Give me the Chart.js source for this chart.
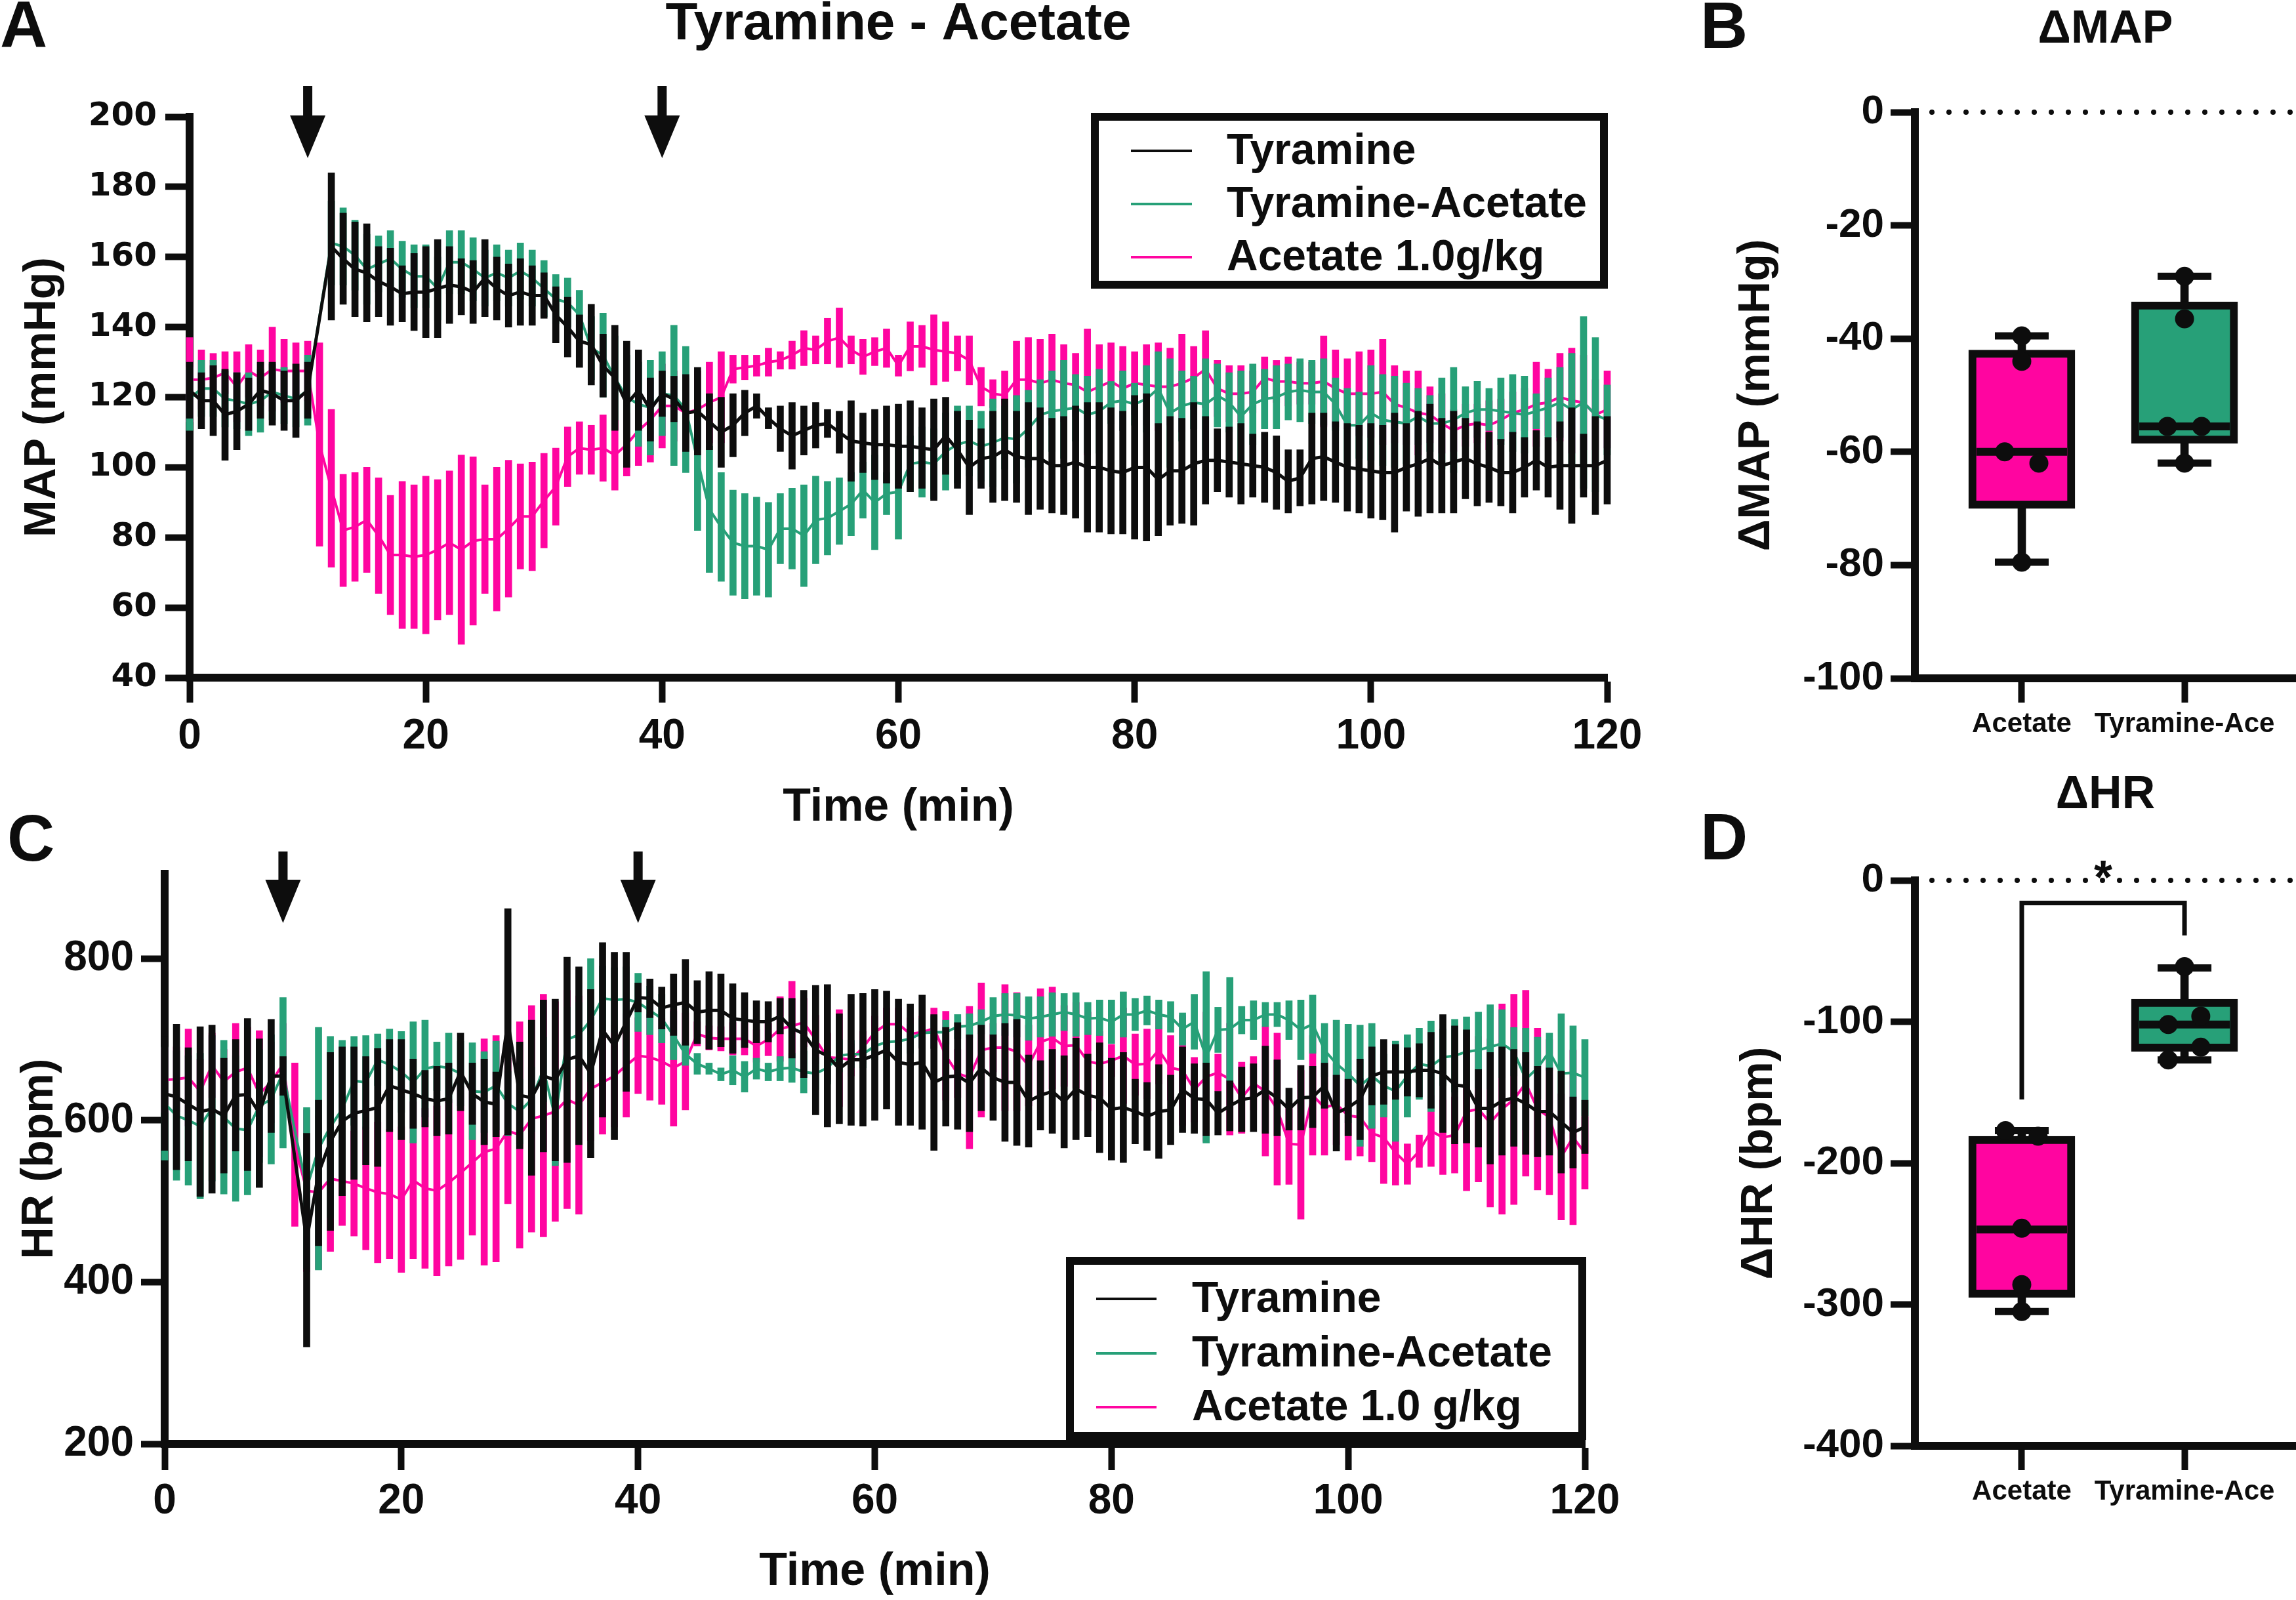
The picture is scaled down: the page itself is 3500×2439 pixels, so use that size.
<!DOCTYPE html>
<html>
<head>
<meta charset="utf-8">
<title>Tyramine - Acetate</title>
<script src="https://cdn.jsdelivr.net/npm/chart.js@4.4.1/dist/chart.umd.min.js"></script>
<style>
  body { margin: 0; background: #fff; }
  #wrap { position: relative; width: 3500px; height: 2439px; overflow: hidden; }
  canvas { position: absolute; }
</style>
</head>
<body>
<div id="wrap">
  <canvas id="panelA" width="2530" height="1290" style="left:0;top:0"></canvas>
  <canvas id="panelC" width="2500" height="1239" style="left:0;top:1200px"></canvas>
  <canvas id="panelB" width="940" height="1150" style="left:2560px;top:0"></canvas>
  <canvas id="panelD" width="940" height="1289" style="left:2560px;top:1150px"></canvas>
</div>
<script>
const ink = '#0d0d0d';
const green = '#27a078';
const pink = '#ff05a0';

const minutes = [
  0, 1, 2, 3, 4, 5, 6, 7, 8, 9,
  10, 11, 12, 13, 14, 15, 16, 17, 18, 19,
  20, 21, 22, 23, 24, 25, 26, 27, 28, 29,
  30, 31, 32, 33, 34, 35, 36, 37, 38, 39,
  40, 41, 42, 43, 44, 45, 46, 47, 48, 49,
  50, 51, 52, 53, 54, 55, 56, 57, 58, 59,
  60, 61, 62, 63, 64, 65, 66, 67, 68, 69,
  70, 71, 72, 73, 74, 75, 76, 77, 78, 79,
  80, 81, 82, 83, 84, 85, 86, 87, 88, 89,
  90, 91, 92, 93, 94, 95, 96, 97, 98, 99,
  100, 101, 102, 103, 104, 105, 106, 107, 108, 109,
  110, 111, 112, 113, 114, 115, 116, 117, 118, 119,
  120
];
const timeTicks = [0, 20, 40, 60, 80, 100, 120];
const mapTicks = [40, 60, 80, 100, 120, 140, 160, 180, 200];
const hrTicks = [200, 400, 600, 800];
const dMapTicks = [-100, -80, -60, -40, -20, 0];
const dHrTicks = [-400, -300, -200, -100, 0];
const arrowTimes = [10, 40];
const namesMap = ['Tyramine', 'Tyramine-Acetate', 'Acetate 1.0g/kg'];
const namesHr = ['Tyramine', 'Tyramine-Acetate', 'Acetate 1.0 g/kg'];
const groups = ['Acetate', 'Tyramine-Ace'];

// MAP (mmHg), mean and SEM per minute
const mapTyr = [
  122, 119, 119, 115, 116, 118, 122, 121, 119, 119,
  122, null, 163, 159.5, 156.5, 155.5, 153, 151.5, 149.5, 150,
  150, 151, 152, 151.5, 150, 154, 151, 149, 150, 149,
  149, 143.5, 140, 136, 135, 129, 125.5, 118, 122, 116.5,
  121, 119.5, 115.5, 116, 113, 110, 112, 115.5, 117.5, 114,
  111, 109, 110.5, 112, 112.5, 110, 107.5, 107, 106.5, 106.5,
  106, 106, 105.5, 105, 109, 105, 100, 102.5, 103, 105,
  103, 102.5, 102.5, 100.5, 100.5, 101.5, 100, 100, 99, 98.5,
  100, 100, 96.5, 99, 99, 101, 102, 102, 101.5, 101,
  100.5, 100, 98.5, 96, 97, 102.5, 103, 101.5, 100, 99.5,
  99, 98.5, 98.5, 100, 101, 102.5, 100.5, 101.5, 102.5, 101,
  100, 98.5, 98.5, 100, 102, 100, 100.5, 100.5, 100.5, 100.5,
  102
];
const mapTyrSem = [
  8, 8, 10, 13, 11, 7.5, 8, 9, 8.5, 10.5,
  8, null, 21, 13, 13.5, 14, 10, 11, 8, 11,
  13, 14, 11, 8, 9, 11, 9, 9, 9.5, 8.5,
  6.5, 8, 8.5, 7.5, 11.5, 9, 15, 18, 11.5, 9,
  6.5, 6.5, 11, 12.5, 8, 10, 9, 6.5, 3.5, 3,
  6.5, 9.5, 7, 6.5, 4, 6, 11.5, 8.5, 10, 11,
  12, 13, 11.5, 14.5, 11, 11, 13.5, 8.5, 13, 14.5,
  13, 16, 14.5, 13.5, 14, 16, 18.5, 18.5, 18, 17.5,
  20.5, 21, 16, 15.5, 15, 17.5, 12.5, 9, 10, 11.5,
  9, 10, 10.5, 9, 8, 13, 12.5, 11.5, 12.5, 12.5,
  13.5, 13.5, 17, 12.5, 15, 15.5, 13.5, 14.5, 11.5, 12,
  10, 9.5, 11.5, 8.5, 8.5, 8.5, 12.5, 16.5, 9, 14,
  12.5
];
const mapMix = [
  119.5, 122.5, 122.5, 119.5, 119, 118, 119, 121.5, 120.5, 119.5,
  122, null, 164, 163, 160.5, 156.5, 158, 159.5, 156.5, 154.5,
  154.5, 151, 158.5, 158.5, 156.5, 154, 155.5, 154, 156, 154,
  151, 148, 147, 143.5, 134, 132, 125.5, 120, 118, 117,
  121, 120.5, 116.5, 102, 88, 83, 78.5, 77.5, 77.5, 76.5,
  82.5, 82.5, 80.5, 85, 85.5, 87.5, 89.5, 93.5, 90, 92.5,
  93, 101, 101.5, 101, 104.5, 106.5, 107.5, 106, 107, 108.5,
  108, 111, 115, 116, 116.5, 117, 115, 116, 118.5, 119,
  118, 119.5, 122.5, 115.5, 117.5, 118.5, 118, 120.5, 118.5, 114.5,
  118, 119.5, 120, 121.5, 122, 121.5, 121.5, 118, 112, 112,
  115.5, 113.5, 113, 112.5, 114.5, 112.5, 112.5, 113.5, 115.5, 116.5,
  116.5, 116, 115.5, 115, 116, 117, 118.5, 116.5, 118.5, 115,
  113.5
];
const mapMixSem = [
  9, 8, 8, 8, 8, 9, 9, 8, 8, 8,
  10, null, 12, 11, 10, 10, 8, 8, 8, 9,
  9, 9, 9, 9, 9, 8, 8, 8, 8, 8,
  8, 7, 7, 7, 9, 12, 12, 12, 12, 13.5,
  12, 20, 18, 20, 18, 15.5, 15, 15, 14, 13.5,
  10, 11.5, 14.5, 12.5, 10.5, 9.5, 9, 8, 13.5, 6,
  13.5, 8, 10, 10, 11, 11, 10, 10, 12.5, 9,
  12.5, 11, 10, 11.5, 14, 9.5, 11, 12, 6, 8.5,
  6, 9.5, 10.5, 15.5, 10, 7.5, 13, 9, 8.5, 13,
  11.5, 8.5, 9, 8, 9, 9, 9.5, 7.5, 10.5, 9.5,
  13.5, 13, 13, 11.5, 8, 8, 13, 15, 7.5, 8,
  6, 9.5, 11, 11, 5, 8.5, 10, 16, 24.5, 22,
  10
];
const mapAce = [
  125, 125, 125.5, 127, 123, 127.5, 125.5, 128, 127.5, 127.5,
  127.5, 106.5, 94, 82, 83, 85, 80.5, 75, 75, 74.5,
  75, 76.5, 78.5, 76.5, 79, 79.5, 79.5, 82.5, 86, 86,
  90.5, 94.5, 103, 105.5, 105, 105.5, 103.5, 106.5, 110.5, 113.5,
  117.5, 117.5, 115.5, 116.5, 118.5, 120, 128, 128.5, 129, 130,
  130.5, 132, 134, 133.5, 136, 137, 133.5, 131.5, 133, 134,
  129, 134.5, 134.5, 133.5, 133, 132.5, 130.5, 123, 121, 120.5,
  125, 125, 124, 125, 124, 123.5, 121.5, 123, 124.5, 122.5,
  124, 123.5, 123, 123, 124, 125.5, 128, 122.5, 121, 121,
  121.5, 125.5, 124.5, 124.5, 124, 124, 124.5, 122.5, 121, 121,
  121, 121.5, 118, 117, 115.5, 115, 112.5, 110.5, 112, 112.5,
  112, 113.5, 115.5, 116.5, 118, 118.5, 120, 119, 118.5, 115,
  116.5
];
const mapAceSem = [
  12, 8.5, 7, 6, 10, 7.5, 8, 12, 9, 8,
  8.5, 29, 22.5, 16, 15.5, 15, 16.5, 17, 21, 20.5,
  22.5, 20, 20.5, 27, 24, 15.5, 20.5, 19.5, 15, 15.5,
  13.5, 11, 8.5, 7.5, 7, 9.5, 10, 9, 10, 12,
  12, 10, 10, 11, 11.5, 13, 4, 3.5, 3, 4,
  2.5, 4, 5, 4, 6.5, 8.5, 4, 5, 4, 5.5,
  3, 7, 6, 10, 8.5, 5, 7, 5.5, 4, 7,
  11, 12, 12.5, 13, 11, 9, 18, 12, 11, 12,
  9, 11.5, 12.5, 11, 14, 9, 11, 8, 8, 8,
  6, 6, 6, 7, 6, 6, 13, 11, 10, 12,
  12.5, 15, 11, 10.5, 12, 8, 8.5, 6, 6, 5.5,
  7, 6, 6, 6, 12, 9.5, 12.5, 15, 13.5, 10,
  11
];

// HR (bpm), mean and SEM per minute
const hrTyr = [
  633, 629, 620, 611, 614, 606, 631, 632, 609, 655,
  655, null, 452, 535, 574, 599, 609, 612, 616, 643,
  638, 633, 627, 624, 627, 660, 633, 623, 620, 722,
  631, 628, 655, 650, 675, 680, 658, 712, 692, 722,
  752, 751, 739, 743, 746, 734, 736, 736, 726, 724,
  722, 722, 729, 714, 707, 687, 680, 664, 675, 675,
  681, 687, 672, 669, 672, 647, 654, 655, 646, 665,
  653, 647, 647, 624, 631, 636, 623, 639, 631, 628,
  614, 616, 611, 605, 611, 613, 638, 627, 626, 609,
  618, 626, 628, 638, 628, 614, 628, 629, 643, 609,
  616, 626, 655, 660, 660, 660, 662, 662, 658, 644,
  642, 615, 615, 624, 628, 621, 611, 611, 598, 585,
  592
];
const hrTyrSem = [
  70, 90, 70, 105, 104, 71, 69, 94, 92, 70,
  24, null, 132, 90, 110, 92, 82, 67, 73, 57,
  62, 43, 35, 43, 44, 48, 38, 53, 40, 140,
  66, 96, 94, 100, 127, 110, 104, 108, 116, 86,
  18, 24, 26, 38, 53, 39, 48, 45, 43, 34,
  26, 25, 22, 37, 54, 80, 88, 68, 81, 82,
  81, 73, 78, 75, 83, 84, 61, 66, 60, 53,
  53, 73, 78, 57, 43, 52, 57, 63, 51, 68,
  63, 68, 40, 42, 58, 43, 53, 43, 45, 27,
  31, 40, 42, 54, 47, 26, 40, 38, 28, 47,
  35, 50, 36, 40, 34, 30, 33, 47, 73, 73,
  70, 48, 69, 67, 60, 63, 56, 54, 63, 44,
  33
];
const hrMix = [
  621, 606, 600, 593, 615, 604, 590, 588, 618, 626,
  659, null, 516, 565, 592, 614, 649, 647, 675, 669,
  660, 647, 664, 667, 665, 658, 636, 635, 643, 621,
  611, 626, 663, 604, 700, 706, 724, 751, 749, 750,
  746, 736, 726, 705, 682, 670, 664, 657, 662, 654,
  664, 660, 664, 665, 660, 658, 665, 680, 682, 682,
  692, 697, 698, 701, 708, 709, 709, 716, 717, 722,
  729, 731, 730, 726, 728, 731, 734, 731, 726, 727,
  722, 731, 731, 736, 731, 728, 713, 722, 678, 712,
  713, 724, 724, 731, 731, 724, 712, 719, 687, 670,
  658, 643, 655, 643, 636, 655, 670, 667, 678, 680,
  685, 687, 691, 695, 685, 651, 665, 685, 658, 659,
  653
];
const hrMixSem = [
  70, 80, 80, 90, 90, 95, 90, 80, 70, 80,
  93, null, 100, 150, 112, 85, 55, 58, 32, 44,
  50, 75, 60, 30, 43, 40, 60, 50, 55, 40,
  40, 40, 40, 60, 40, 40, 76, 40, 40, 40,
  36, 30, 30, 30, 14, 13, 7, 8, 18, 19,
  13, 11, 15, 18, 26, 20, 20, 20, 17, 17,
  17, 22, 22, 18, 18, 20, 15, 15, 15, 15,
  23, 26, 27, 27, 25, 27, 23, 27, 20, 22,
  27, 28, 20, 18, 18, 19, 20, 34, 106, 28,
  64, 17, 24, 15, 15, 24, 37, 36, 33, 54,
  61, 75, 65, 39, 62, 51, 44, 56, 35, 45,
  43, 47, 52, 42, 30, 63, 38, 23, 74, 58,
  47
];
const hrAce = [
  650, 651, 653, 636, 668, 648, 660, 665, 633, 647,
  670, 570, 513, 511, 528, 525, 522, 516, 511, 509,
  502, 526, 516, 513, 523, 535, 548, 561, 565, 587,
  582, 602, 606, 611, 626, 619, 639, 647, 655, 668,
  680, 678, 673, 665, 673, 707, 702, 701, 701, 701,
  692, 700, 713, 717, 721, 700, 678, 677, 675, 690,
  709, 719, 719, 707, 709, 714, 680, 658, 653, 687,
  690, 690, 685, 668, 697, 702, 692, 693, 673, 670,
  674, 680, 669, 670, 687, 665, 662, 638, 654, 659,
  651, 628, 646, 636, 614, 571, 570, 631, 616, 620,
  606, 604, 584, 579, 560, 546, 562, 587, 579, 582,
  611, 614, 597, 614, 626, 646, 614, 604, 555, 579,
  560
];
const hrAceSem = [
  40, 40, 60, 40, 40, 40, 60, 50, 78, 50,
  50, 101, 100, 95, 90, 55, 65, 76, 87, 80,
  90, 97, 99, 105, 103, 107, 90, 140, 140, 90,
  140, 140, 150, 136, 135, 135, 64, 64, 63, 64,
  47, 53, 53, 72, 60, 15, 15, 15, 20, 20,
  20, 20, 40, 55, 30, 30, 30, 60, 20, 20,
  20, 20, 20, 20, 20, 25, 55, 30, 88, 83,
  30, 78, 73, 50, 66, 63, 50, 53, 61, 40,
  20, 59, 38, 43, 42, 40, 68, 40, 80, 23,
  69, 44, 33, 80, 94, 50, 92, 74, 59, 50,
  55, 48, 35, 57, 40, 25, 20, 44, 46, 47,
  98, 90, 104, 130, 130, 115, 100, 96, 78, 108,
  45
];

// box plots: [min, q1, median, q3, max] and the single animals
const dMapAcetateBox = [-79.5, -70, -60, -42, -39.5];
const dMapTyrAceBox = [-62, -58.5, -55.5, -33.5, -29];
const dMapAcetatePts = [-39.5, -44, -60, -62, -79.5];
const dMapTyrAcePts = [-29, -36.5, -55.5, -55.5, -62];
const dHrAcetateBox = [-305, -295, -247, -181, -177];
const dHrTyrAceBox = [-127, -121, -102, -84, -62];
const dHrAcetatePts = [-177, -181, -246, -286, -305];
const dHrTyrAcePts = [-61, -96, -102, -118, -127];
const dHrBracket = [-155, -16, -39];

// horizontal scatter of the dots inside each box (layout only)
const spreadMap = [[0, 0, -0.105, 0.105, 0], [0, 0, -0.105, 0.105, 0]];
const spreadHr = [[-0.1, 0.1, 0, 0, 0], [0, 0.1, -0.1, 0.1, -0.1]];

const sans = 'Liberation Sans, Arial, sans-serif';

const decor = {
  id: 'decor',
  afterDatasetsDraw(chart, args, o) {
    const { ctx, chartArea: area, scales } = chart;
    ctx.save();
    ctx.fillStyle = ink;
    ctx.strokeStyle = ink;
    if (o.letter) {
      ctx.font = `bold 100px ${sans}`;
      ctx.textAlign = 'left';
      ctx.textBaseline = 'alphabetic';
      ctx.fillText(o.letter, o.letterX, o.letterY);
    }
    if (o.title) {
      ctx.font = `bold ${o.titleSize}px ${sans}`;
      ctx.textAlign = 'center';
      ctx.textBaseline = 'alphabetic';
      ctx.fillText(o.title, (area.left + area.right) / 2, o.titleY);
    }
    if (o.arrows) {
      const a = o.arrows;
      arrowTimes.forEach(t => {
        const x = scales.x.getPixelForValue(t);
        ctx.fillRect(x - 7, area.top + a.top, 14, a.headTop - a.top + 1);
        ctx.beginPath();
        ctx.moveTo(x - 27, area.top + a.headTop);
        ctx.lineTo(x + 27, area.top + a.headTop);
        ctx.lineTo(x, area.top + a.tip);
        ctx.closePath();
        ctx.fill();
      });
    }
    if (o.legend) {
      const L = o.legend;
      const x0 = area.right + L.x;
      const y0 = (L.from === 'top' ? area.top : area.bottom) + L.y;
      ctx.fillStyle = '#fff';
      ctx.fillRect(x0, y0, L.w, L.h);
      ctx.lineWidth = 12;
      ctx.strokeRect(x0 + 6, y0 + 6, L.w - 12, L.h - 12);
      ctx.font = `bold 66px ${sans}`;
      ctx.textAlign = 'left';
      ctx.textBaseline = 'middle';
      chart.data.datasets.filter(d => d.type === 'line').forEach((d, i) => {
        const y = y0 + L.rows[i];
        ctx.fillStyle = d.borderColor;
        ctx.fillRect(x0 + L.line[0], y - 2, L.line[1] - L.line[0], 4);
        ctx.fillStyle = ink;
        ctx.fillText(d.label, x0 + L.text, y + 2);
      });
    }
    if (o.zeroDots) {
      const y = scales.y.getPixelForValue(0);
      ctx.lineWidth = 8;
      ctx.lineCap = 'round';
      ctx.setLineDash([0, 26]);
      ctx.beginPath();
      ctx.moveTo(area.left + 26, y);
      ctx.lineTo(area.right, y);
      ctx.stroke();
      ctx.setLineDash([]);
    }
    if (o.star !== undefined) {
      ctx.font = `bold 72px ${sans}`;
      ctx.textAlign = 'center';
      ctx.textBaseline = 'middle';
      ctx.fillText('*', scales.x.getPixelForValue(o.star), scales.y.getPixelForValue(0));
    }
    ctx.restore();
  }
};

function tickGrid(len) {
  return { display: true, offset: false, drawOnChartArea: false, drawTicks: true, tickLength: len, tickWidth: 10, tickColor: ink, color: ink };
}

// keep the plot area where the layout puts it: no extra room for edge labels
function fixHeight(h) {
  return s => { s.height = h; s.paddingLeft = 0; s.paddingRight = 0; };
}

function seriesLine(label, means, color, width, order) {
  return {
    type: 'line', label, order,
    data: minutes.map((t, i) => ({ x: t, y: means[i] })),
    borderColor: color, borderWidth: width, pointRadius: 0, spanGaps: true, tension: 0
  };
}

function seriesBars(means, sems, color, order) {
  const data = [];
  minutes.forEach((t, i) => {
    if (means[i] === null) return;
    data.push({ x: t, y: [means[i] - sems[i], means[i] + sems[i]] });
  });
  return { type: 'bar', data, backgroundColor: color, barThickness: 10, grouped: false, clip: false, order };
}

function timeChart(id, c) {
  return new Chart(document.getElementById(id), {
    type: 'line',
    data: {
      datasets: [
        seriesLine(c.names[0], c.tyr, ink, 5, 0),
        seriesBars(c.tyr, c.tyrSem, ink, 1),
        seriesLine(c.names[1], c.mix, green, 4, 2),
        seriesBars(c.mix, c.mixSem, green, 3),
        seriesLine(c.names[2], c.ace, pink, 4, 4),
        seriesBars(c.ace, c.aceSem, pink, 5)
      ]
    },
    options: {
      responsive: false, animation: false, events: [], devicePixelRatio: 1,
      layout: { padding: c.padding, autoPadding: false },
      plugins: { legend: { display: false }, tooltip: { enabled: false }, decor: c.decor },
      scales: {
        x: {
          type: 'linear', min: 0, max: 120, offset: false,
          afterBuildTicks: s => { s.ticks = timeTicks.map(v => ({ value: v })); },
          afterFit: fixHeight(c.xHeight),
          border: { display: true, color: ink, width: 12 },
          grid: tickGrid(c.xTick),
          ticks: { color: ink, padding: c.xPad, maxRotation: 0, autoSkip: false, font: { family: sans, size: 64, weight: 'bold' } },
          title: { display: true, text: 'Time (min)', color: ink, font: { family: sans, size: 70, weight: 'bold' }, padding: { top: 0, bottom: c.xTitlePad } }
        },
        y: {
          type: 'linear', min: c.yMin, max: c.yMax,
          afterBuildTicks: s => { s.ticks = c.yTicks.map(v => ({ value: v })); },
          afterFit: s => { s.width = c.yWidth; },
          border: { display: true, color: ink, width: 12 },
          grid: tickGrid(c.yTick),
          ticks: { color: ink, padding: c.yPad, autoSkip: false, font: c.yFont },
          title: { display: true, text: c.yTitle, color: ink, font: { family: sans, size: 68, weight: 'bold' }, padding: { top: c.yTitlePad, bottom: 0 } }
        }
      }
    },
    plugins: [decor]
  });
}

function boxChart(id, c) {
  const fills = [pink, green];
  const datasets = [
    { type: 'bar', data: c.boxes.map((b, i) => ({ x: i, y: [b[0], b[4]] })), backgroundColor: ink, barThickness: 12, grouped: false, order: 5 },
    { type: 'bar', data: c.boxes.map((b, i) => ({ x: i, y: [b[1], b[3]] })), backgroundColor: fills, borderColor: ink, borderWidth: 12, borderSkipped: false, barThickness: 162, grouped: false, order: 4 },
    { type: 'line', showLine: false, data: c.boxes.flatMap((b, i) => [{ x: i, y: b[0] }, { x: i, y: b[4] }]), pointStyle: 'line', pointRadius: 41, pointBorderWidth: 11, pointBorderColor: ink, order: 3 },
    { type: 'line', showLine: false, data: c.boxes.map((b, i) => ({ x: i, y: b[2] })), pointStyle: 'line', pointRadius: 69, pointBorderWidth: 12, pointBorderColor: ink, order: 2 },
    { type: 'line', showLine: false, data: c.points.flatMap((pts, i) => pts.map((v, j) => ({ x: i + c.spread[i][j], y: v }))), pointRadius: 14.5, pointBackgroundColor: ink, pointBorderWidth: 0, order: 1 }
  ];
  if (c.bracket) {
    const br = c.bracket;
    datasets.push({
      type: 'line', data: [{ x: 0, y: br[0] }, { x: 0, y: br[1] }, { x: 1, y: br[1] }, { x: 1, y: br[2] }],
      borderColor: ink, borderWidth: 7, pointRadius: 0, tension: 0, order: 0, clip: false
    });
  }
  return new Chart(document.getElementById(id), {
    type: 'bar',
    data: { datasets },
    options: {
      responsive: false, animation: false, events: [], devicePixelRatio: 1,
      layout: { padding: { top: c.top, right: 0, bottom: 0, left: 0 }, autoPadding: false },
      plugins: { legend: { display: false }, tooltip: { enabled: false }, decor: c.decor },
      scales: {
        x: {
          type: 'linear', min: -0.657, max: 1.685, offset: false,
          afterBuildTicks: s => { s.ticks = groups.map((g, i) => ({ value: i })); },
          afterFit: fixHeight(c.xHeight),
          border: { display: true, color: ink, width: 12 },
          grid: tickGrid(37),
          ticks: { color: ink, padding: 8, maxRotation: 0, autoSkip: false, callback: v => groups[v], font: { family: sans, size: 42, weight: 'bold' } }
        },
        y: {
          type: 'linear', min: c.yTicks[0], max: 0,
          afterBuildTicks: s => { s.ticks = c.yTicks.map(v => ({ value: v })); },
          afterFit: s => { s.width = 359; },
          border: { display: true, color: ink, width: 12 },
          grid: tickGrid(37),
          ticks: { color: ink, padding: 10, autoSkip: false, callback: v => String(v), font: { family: sans, size: 62, weight: 'bold' } },
          title: { display: true, text: c.yTitle, color: ink, font: { family: sans, size: 68, weight: 'bold' }, padding: { top: c.yTitlePad, bottom: 0 } }
        }
      }
    },
    plugins: [decor]
  });
}

timeChart('panelA', {
  names: namesMap,
  tyr: mapTyr, tyrSem: mapTyrSem, mix: mapMix, mixSem: mapMixSem, ace: mapAce, aceSem: mapAceSem,
  padding: { top: 178, right: 80, bottom: 0, left: 0 },
  xHeight: 257, xTick: 38, xPad: 14, xTitlePad: 16,
  yMin: 40, yMax: 200, yTicks: mapTicks, yWidth: 289, yTick: 37, yPad: 13, yTitlePad: 24,
  yFont: { family: 'DejaVu Sans', size: 50, weight: 'bold' },
  yTitle: 'MAP (mmHg)',
  decor: {
    letter: 'A', letterX: 0, letterY: 72,
    title: 'Tyramine - Acetate', titleSize: 80, titleY: 60,
    arrows: { top: -47, headTop: -2, tip: 63 },
    legend: { from: 'top', x: -787, y: -6, w: 788, h: 268, rows: [58, 139, 220], line: [61, 154], text: 207 }
  }
});

timeChart('panelC', {
  names: namesHr,
  tyr: hrTyr, tyrSem: hrTyrSem, mix: hrMix, mixSem: hrMixSem, ace: hrAce, aceSem: hrAceSem,
  padding: { top: 132, right: 84, bottom: 0, left: 0 },
  xHeight: 238, xTick: 40, xPad: 10, xTitlePad: 0,
  yMin: 200, yMax: 905, yTicks: hrTicks, yWidth: 251, yTick: 36, yPad: 11, yTitlePad: 20,
  yFont: { family: sans, size: 64, weight: 'bold' },
  yTitle: 'HR (bpm)',
  decor: {
    letter: 'C', letterX: 11, letterY: 112,
    arrows: { top: -34, headTop: 9, tip: 75 },
    legend: { from: 'bottom', x: -791, y: -285, w: 793, h: 279, rows: [64, 147, 229], line: [46, 138], text: 192 }
  }
});

boxChart('panelB', {
  boxes: [dMapAcetateBox, dMapTyrAceBox],
  points: [dMapAcetatePts, dMapTyrAcePts],
  spread: spreadMap,
  yTicks: dMapTicks, yTitle: '\u0394MAP (mmHg)', yTitlePad: 77,
  top: 171, xHeight: 116,
  decor: { letter: 'B', letterX: 32, letterY: 73, title: '\u0394MAP', titleSize: 70, titleY: 65, zeroDots: true }
});

boxChart('panelD', {
  boxes: [dHrAcetateBox, dHrTyrAceBox],
  points: [dHrAcetatePts, dHrTyrAcePts],
  spread: spreadHr,
  bracket: dHrBracket,
  yTicks: dHrTicks, yTitle: '\u0394HR (bpm)', yTitlePad: 81,
  top: 192, xHeight: 235,
  decor: { letter: 'D', letterX: 32, letterY: 160, title: '\u0394HR', titleSize: 70, titleY: 82, zeroDots: true, star: 0.5 }
});
</script>
</body>
</html>
